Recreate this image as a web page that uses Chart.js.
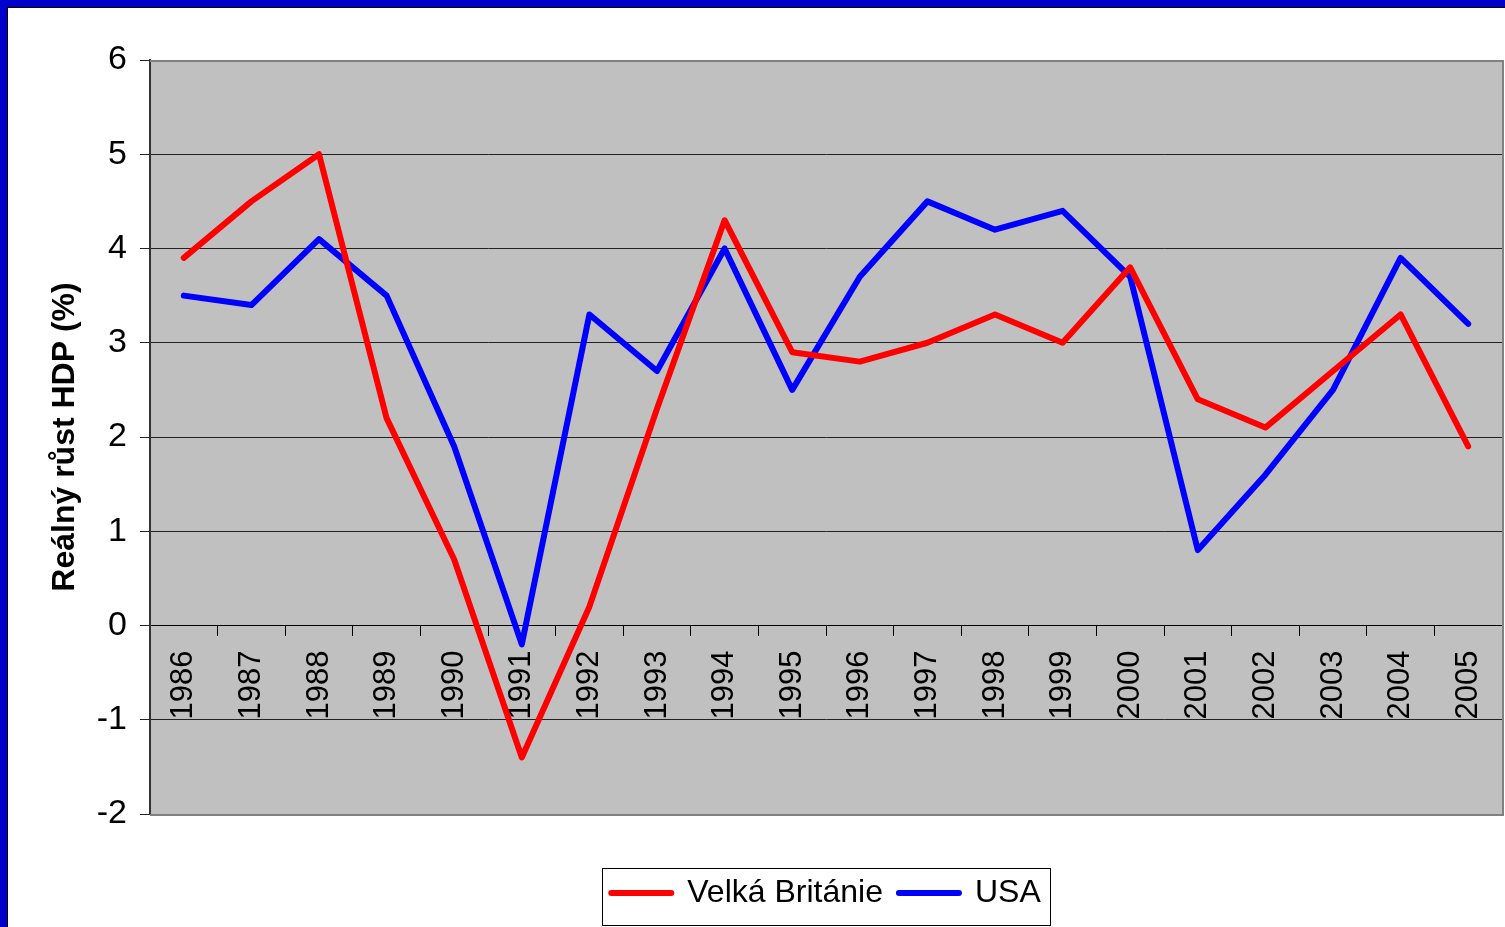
<!DOCTYPE html>
<html>
<head>
<meta charset="utf-8">
<script src="https://cdn.jsdelivr.net/npm/chart.js@4.4.0/dist/chart.umd.min.js"></script>
<style>
  body { margin: 0; background: #fff; overflow: hidden; }
  #wrap { position: relative; width: 1505px; height: 927px; }
  #frame {
    position: absolute; left: 0; top: 0; width: 1505px; height: 927px;
    box-sizing: border-box; border-top: 7px solid #0000CC; border-left: 7px solid #0000CC;
    pointer-events: none;
  }
  #frame div { width: 100%; height: 100%; border-top: 1px solid #000; border-left: 1px solid #000; box-sizing: border-box; }
  canvas { position: absolute; left: 0; top: 0; }
</style>
</head>
<body>
<div id="wrap">
  <canvas id="myChart" width="1505" height="927"></canvas>
  <div id="frame"><div></div></div>
</div>
<script>
// roky
const years = ['1986', '1987', '1988', '1989', '1990', '1991', '1992', '1993', '1994', '1995',
               '1996', '1997', '1998', '1999', '2000', '2001', '2002', '2003', '2004', '2005'];

// reálný růst HDP (%)
const ukGrowth  = [3.9, 4.5, 5.0, 2.2, 0.7, -1.4, 0.2, 2.3, 4.3, 2.9,
                   2.8, 3.0, 3.3, 3.0, 3.8, 2.4, 2.1, 2.7, 3.3, 1.9];
const usaGrowth = [3.5, 3.4, 4.1, 3.5, 1.9, -0.2, 3.3, 2.7, 4.0, 2.5,
                   3.7, 4.5, 4.2, 4.4, 3.7, 0.8, 1.6, 2.5, 3.9, 3.2];

const seriesNames = ['Velká Británie', 'USA'];
const yMin = -2, yMax = 6;

const FONT = "'Liberation Sans', Arial, sans-serif";

// šedé pozadí grafu + rámeček
const plotBackground = {
  id: 'plotBackground',
  beforeDraw(chart) {
    const {ctx, chartArea: a} = chart;
    ctx.save();
    ctx.fillStyle = '#C0C0C0';
    ctx.fillRect(a.left, a.top, a.right - a.left, a.bottom - a.top);
    ctx.restore();
  },
  beforeDatasetsDraw(chart) {
    const {ctx, chartArea: a} = chart;
    ctx.save();
    ctx.strokeStyle = '#808080';
    ctx.lineWidth = 2;
    ctx.beginPath();
    ctx.moveTo(a.left, a.top + 1);
    ctx.lineTo(a.right + 1, a.top + 1);
    ctx.lineTo(a.right + 1, a.bottom + 1);
    ctx.lineTo(a.left, a.bottom + 1);
    ctx.stroke();
    ctx.restore();
  }
};

// rámeček kolem legendy
const legendBox = {
  id: 'legendBox',
  afterDraw(chart) {
    const boxes = chart.legend.legendHitBoxes;
    if (!boxes || !boxes.length) return;
    let l = Infinity, r = -Infinity, t = Infinity, b = -Infinity;
    boxes.forEach(h => {
      l = Math.min(l, h.left); r = Math.max(r, h.left + h.width);
      t = Math.min(t, h.top); b = Math.max(b, h.top + h.height);
    });
    const ctx = chart.ctx;
    ctx.save();
    ctx.strokeStyle = '#000';
    ctx.lineWidth = 1;
    ctx.strokeRect(Math.round(l - 9) + 0.5, Math.round(t - 9) + 0.5, Math.round(r - l + 19), Math.round(b - t + 25));
    ctx.restore();
  }
};

const myChart = document.getElementById('myChart').getContext('2d');

const gdpChart = new Chart(myChart, {
  type: 'line',
  data: {
    labels: years,
    datasets: [{
      label: seriesNames[0],
      data: ukGrowth,
      borderColor: '#FF0000',
      backgroundColor: '#FF0000',
      borderWidth: 6,
      borderCapStyle: 'round',
      borderJoinStyle: 'round',
      pointRadius: 0,
      tension: 0
    }, {
      label: seriesNames[1],
      data: usaGrowth,
      borderColor: '#0000FF',
      backgroundColor: '#0000FF',
      borderWidth: 6,
      borderCapStyle: 'round',
      borderJoinStyle: 'round',
      pointRadius: 0,
      tension: 0
    }]
  },
  options: {
    responsive: false,
    animation: false,
    devicePixelRatio: 1,
    layout: { padding: { left: 0, top: 60, right: 3, bottom: 8 } },
    plugins: {
      tooltip: { enabled: false },
      legend: {
        position: 'bottom',
        fullSize: false,
        labels: {
          usePointStyle: true,
          pointStyle: 'line',
          pointStyleWidth: 60,
          padding: 16,
          color: '#000',
          font: { family: FONT, size: 32 },
          generateLabels(chart) {
            return Chart.defaults.plugins.legend.labels.generateLabels(chart)
              .map(item => Object.assign(item, { lineCap: 'round', lineWidth: 6 }));
          }
        }
      }
    },
    scales: {
      x: {
        position: { y: 0 },
        offset: true,
        afterFit(scale) { scale.paddingLeft = 0; scale.paddingRight = 0; },
        grid: {
          offset: true,
          drawOnChartArea: false,
          drawTicks: true,
          tickLength: 10,
          color: '#000',
          tickColor: '#000'
        },
        border: { display: true, color: '#000', width: 1 },
        ticks: {
          autoSkip: false,
          minRotation: 90,
          maxRotation: 90,
          padding: 15,
          color: '#000',
          font: { family: FONT, size: 31 }
        }
      },
      // prázdná osa jen kvůli mezeře mezi grafem a legendou
      spacer: {
        axis: 'x',
        type: 'category',
        position: 'bottom',
        afterFit(scale) { scale.height = 47; scale.paddingLeft = 0; scale.paddingRight = 0; },
        grid: { display: false },
        border: { display: false },
        ticks: { display: false }
      },
      y: {
        min: yMin,
        max: yMax,
        afterFit(scale) { scale.width = 150; },
        grid: {
          color: ctx => (ctx.tick && ctx.tick.value === yMax) ? '#808080' : '#222',
          tickColor: '#222',
          tickLength: 10,
          lineWidth: 1
        },
        border: { display: true, color: '#333', width: 2 },
        ticks: {
          stepSize: 1,
          padding: 13,
          color: '#000',
          font: { family: FONT, size: 34 }
        },
        title: {
          display: true,
          text: 'Reálný růst HDP (%)',
          color: '#000',
          padding: { top: 46, bottom: 0 },
          font: { family: FONT, size: 32, weight: 'bold' }
        }
      }
    }
  },
  plugins: [plotBackground, legendBox]
});
</script>
</body>
</html>
